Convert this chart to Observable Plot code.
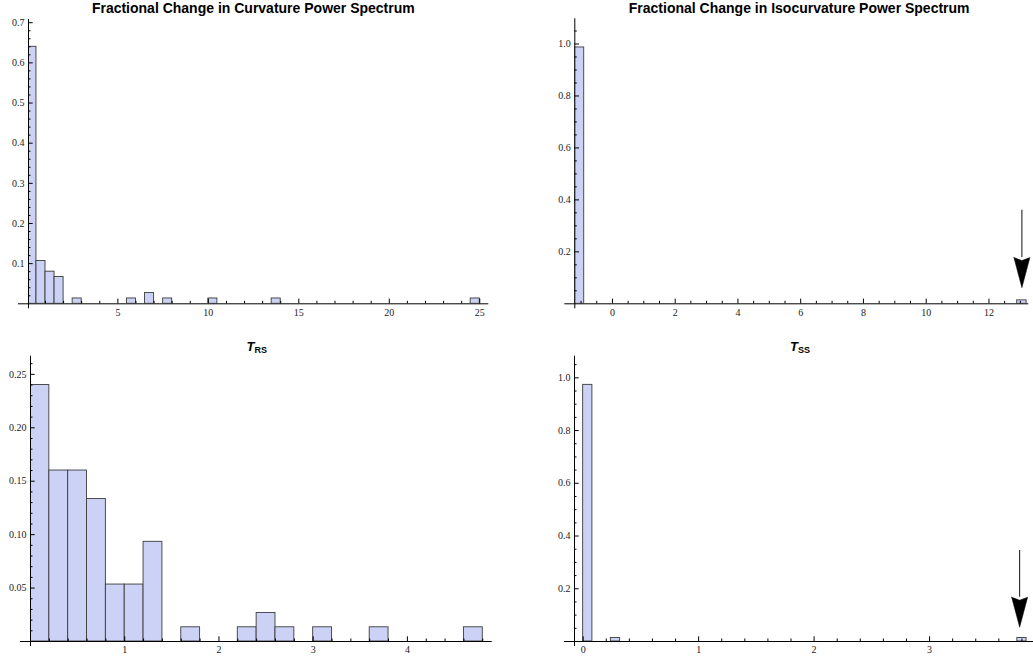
<!DOCTYPE html>
<html><head><meta charset="utf-8">
<script src="https://cdn.jsdelivr.net/npm/d3@7"></script>
<script src="https://cdn.jsdelivr.net/npm/@observablehq/plot@0.6"></script>
<style>
body{margin:0;background:#fff;}
#wrap{position:relative;width:1033px;height:657px;overflow:hidden;background:#fff;}
.panel{position:absolute;}
.panel svg{overflow:visible;display:block;}
.title{position:absolute;font-family:"Liberation Sans",Arial,sans-serif;font-weight:bold;color:#000;white-space:nowrap;text-align:center;line-height:1;}
.title sub{font-size:9px;vertical-align:-2px;line-height:0;font-style:normal;}
</style></head><body><div id="wrap"></div>
<script>
// ---------- data (relative frequencies, bins) ----------
// Fractional Change in Curvature Power Spectrum (bin width 0.5)
const curvLo   = [0, 0.5, 1.0, 1.5, 2.5, 5.5, 6.5, 7.5, 10.0, 13.5, 24.5];
const curvHi   = [0.5, 1.0, 1.5, 2.0, 3.0, 6.0, 7.0, 8.0, 10.5, 14.0, 25.0];
const curvFreq = [0.64, 0.1067, 0.08, 0.0667, 0.0133, 0.0133, 0.0267, 0.0133, 0.0133, 0.0133, 0.0133];

// Fractional Change in Isocurvature Power Spectrum (bin width 0.3)
const isoLo   = [-1.2, 12.9];
const isoHi   = [-0.9, 13.2];
const isoFreq = [0.9867, 0.0133];

// T_RS (bin width 0.2)
const trsLo   = [0, 0.2, 0.4, 0.6, 0.8, 1.0, 1.2, 1.6, 2.2, 2.4, 2.6, 3.0, 3.6, 4.6];
const trsHi   = [0.2, 0.4, 0.6, 0.8, 1.0, 1.2, 1.4, 1.8, 2.4, 2.6, 2.8, 3.2, 3.8, 4.8];
const trsFreq = [0.24, 0.16, 0.16, 0.1333, 0.0533, 0.0533, 0.0933, 0.0133, 0.0133, 0.0267, 0.0133, 0.0133, 0.0133, 0.0133];

// T_SS (bin width 0.08)
const tssLo   = [0, 0.24, 3.76];
const tssHi   = [0.08, 0.32, 3.84];
const tssFreq = [0.9733, 0.0133, 0.0133];

// tick labels
const curvXTicks = [5, 10, 15, 20, 25];
const curvYTicks = [0.1, 0.2, 0.3, 0.4, 0.5, 0.6, 0.7];
const isoXTicks  = [0, 2, 4, 6, 8, 10, 12];
const isoYTicks  = [0.2, 0.4, 0.6, 0.8, 1.0];
const trsXTicks  = [1, 2, 3, 4];
const trsYTicks  = [0.05, 0.10, 0.15, 0.20, 0.25];
const tssXTicks  = [0, 1, 2, 3];
const tssYTicks  = [0.2, 0.4, 0.6, 0.8, 1.0];

// annotation arrows (x, shaft top, head base, tip) in data units
const isoArrow = {x: 13.05, from: 0.36, base: 0.178, tip: 0.062};
const tssArrow = {x: 3.78, from: 0.345, base: 0.168, tip: 0.054};

// ---------- drawing ----------
const BAR_FILL = "rgb(203,210,245)";
const BAR_STROKE = "#3c3c3c";
const LABEL_FONT = "'Liberation Serif','Times New Roman',serif";

function panel(o) {
  const [x0, x1] = o.xDomain, [y0, y1] = o.yDomain;
  const iw = o.width - o.ml - o.mr, ih = o.height - o.mt - o.mb;
  const pxX = (x1 - x0) / iw, pxY = (y1 - y0) / ih;
  const bins = o.lo.map((l, i) => ({lo: l, hi: o.hi[i], f: o.freq[i]}));
  const eps = 1e-9;
  const isMajor = (v, arr) => arr.some(m => Math.abs(m - v) < 1e-6);
  const xMinor = d3.range(Math.ceil(x0 / o.xMinorStep - eps) , Math.floor(x1 / o.xMinorStep + eps) + 1)
    .map(k => +(k * o.xMinorStep).toFixed(6)).filter(v => !isMajor(v, o.xTicks) && v > x0 + eps);
  const yMinor = d3.range(1, Math.floor(y1 / o.yMinorStep + eps) + 1)
    .map(k => +(k * o.yMinorStep).toFixed(6)).filter(v => !isMajor(v, o.yTicks));
  const tickStyle = {stroke: "#000", strokeWidth: 1};
  const marks = [
    Plot.rect(bins, {x1: "lo", x2: "hi", y1: () => 0, y2: "f", fill: BAR_FILL, stroke: BAR_STROKE, strokeWidth: 0.9, clip: true}),
    // axis lines
    Plot.ruleY([0], {y: d => d, x1: () => x0, x2: () => x1, insetLeft: -10, ...tickStyle}),
    Plot.ruleX([x0], {x: d => d, y1: () => y1, y2: () => 0, insetBottom: -5, ...tickStyle}),
    // x ticks
    Plot.ruleX(o.xTicks, {x: d => d, y1: () => 0, y2: () => 0, insetTop: -4.7, ...tickStyle}),
    Plot.ruleX(xMinor, {x: d => d, y1: () => 0, y2: () => 0, insetTop: -2.5, ...tickStyle}),
    // y ticks
    Plot.ruleY(o.yTicks, {y: d => d, x1: () => x0, x2: () => x0, insetRight: -4.7, ...tickStyle}),
    Plot.ruleY(yMinor, {y: d => d, x1: () => x0, x2: () => x0, insetRight: -2.5, ...tickStyle}),
    // tick labels
    Plot.text(o.xTicks, {x: d => d, y: () => 0, dy: 8.5, text: d => o.xFmt(d), fontFamily: LABEL_FONT, fontSize: 10, fill: "#222"}),
    Plot.text(o.yTicks, {x: () => x0, y: d => d, dx: -4, textAnchor: "end", text: d => o.yFmt(d), fontFamily: LABEL_FONT, fontSize: 10, fill: "#222"})
  ];
  if (o.arrow) {
    const a = o.arrow, w = 8 * pxX, notch = 3 * pxY;
    const head = [
      {x: a.x - w, y: a.base}, {x: a.x, y: a.tip}, {x: a.x + w, y: a.base},
      {x: a.x, y: a.base - notch}, {x: a.x - w, y: a.base}
    ];
    marks.push(Plot.ruleX([a], {x: "x", y1: "from", y2: "base", stroke: "#111", strokeWidth: 1}));
    marks.push(Plot.line(head, {x: "x", y: "y", fill: "#000", stroke: "#000", strokeWidth: 0.5, curve: "linear"}));
  }
  const svg = Plot.plot({
    width: o.width, height: o.height,
    marginLeft: o.ml, marginRight: o.mr, marginTop: o.mt, marginBottom: o.mb,
    x: {domain: o.xDomain, axis: null},
    y: {domain: o.yDomain, axis: null},
    style: {background: "transparent", overflow: "visible"},
    marks
  });
  const div = document.createElement("div");
  div.className = "panel";
  div.style.left = o.left + "px";
  div.style.top = o.top + "px";
  div.appendChild(svg);
  document.getElementById("wrap").appendChild(div);
}

function title(html, cx, top, size) {
  const d = document.createElement("div");
  d.className = "title";
  d.style.left = (cx - 300) + "px";
  d.style.width = "600px";
  d.style.top = top + "px";
  d.style.fontSize = size + "px";
  d.innerHTML = html;
  document.getElementById("wrap").appendChild(d);
}

const f1 = d3.format(".1f"), f2 = d3.format(".2f"), fi = d3.format("d");

panel({left: 0, top: 0, width: 516, height: 320, ml: 28, mr: 27.7, mt: 19, mb: 16.7,
  lo: curvLo, hi: curvHi, freq: curvFreq, xDomain: [0.06, 25.5], yDomain: [0, 0.708],
  xTicks: curvXTicks, xMinorStep: 1, yTicks: curvYTicks, yMinorStep: 0.02, xFmt: fi, yFmt: f1});

panel({left: 516, top: 0, width: 517, height: 320, ml: 58.3, mr: 4.7, mt: 18.3, mb: 16.7,
  lo: isoLo, hi: isoHi, freq: isoFreq, xDomain: [-1.2, 13.27], yDomain: [0, 1.097],
  xTicks: isoXTicks, xMinorStep: 0.5, yTicks: isoYTicks, yMinorStep: 0.05, xFmt: fi, yFmt: f1,
  arrow: isoArrow});

panel({left: 0, top: 320, width: 516, height: 337, ml: 30, mr: 24.3, mt: 35.7, mb: 16,
  lo: trsLo, hi: trsHi, freq: trsFreq, xDomain: [0, 4.9], yDomain: [0, 0.267],
  xTicks: trsXTicks, xMinorStep: 0.2, yTicks: trsYTicks, yMinorStep: 0.01, xFmt: fi, yFmt: f2});

panel({left: 516, top: 320, width: 517, height: 337, ml: 58, mr: 0, mt: 35.7, mb: 16,
  lo: tssLo, hi: tssHi, freq: tssFreq, xDomain: [-0.075, 3.9], yDomain: [0, 1.082],
  xTicks: tssXTicks, xMinorStep: 0.2, yTicks: tssYTicks, yMinorStep: 0.05, xFmt: fi, yFmt: f1,
  arrow: tssArrow});

title("Fractional Change in Curvature Power Spectrum", 253.3, 0.5, 14);
title("Fractional Change in Isocurvature Power Spectrum", 799.2, 0.5, 14);
title("<i>T</i><sub>RS</sub>", 256.7, 340, 13);
title("<i>T</i><sub>SS</sub>", 800, 340, 13);
</script>
</body></html>
